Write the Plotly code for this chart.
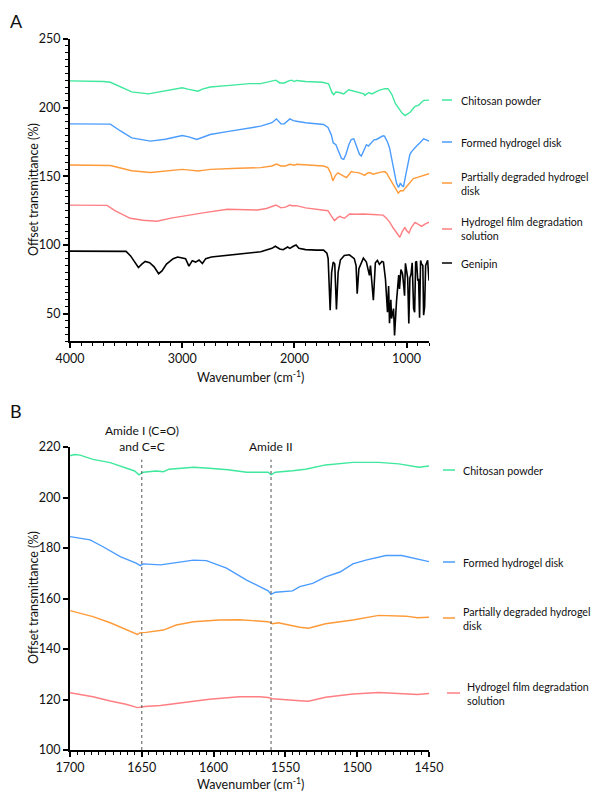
import plotly.graph_objects as go

# ---------------- Panel A (full spectra) ----------------
a_chitosan_wn = [4000, 3800, 3700, 3640, 3550, 3450, 3300, 3150, 3000, 2950, 2880, 2860, 2820, 2750, 2600, 2400, 2300, 2200, 2165, 2130, 2090, 2050, 2025, 2000, 1982, 1900, 1750, 1695, 1665, 1650, 1630, 1600, 1560, 1516, 1490, 1462, 1417, 1380, 1372, 1336, 1309, 1247, 1193, 1166, 1150, 1130, 1100, 1085, 1040, 1013, 990, 968, 945, 924, 900, 888, 860, 843, 800]
a_chitosan_t = [219.5, 219.5, 219.0, 218.5, 215.0, 211.5, 210.0, 212.0, 214.5, 213.5, 212.0, 212.0, 213.5, 215.0, 216.0, 217.5, 217.5, 219.0, 220.0, 218.0, 218.0, 219.5, 220.0, 219.0, 219.8, 219.0, 218.5, 217.4, 211.0, 209.4, 211.4, 211.0, 210.0, 213.0, 212.5, 211.4, 210.6, 210.0, 208.9, 211.0, 210.0, 212.6, 213.8, 213.8, 212.0, 209.4, 203.0, 201.0, 196.0, 194.2, 195.5, 196.6, 199.0, 201.0, 201.5, 202.2, 204.5, 205.3, 205.5]

a_formed_wn = [4000, 3700, 3640, 3550, 3450, 3283, 3150, 3000, 2940, 2870, 2820, 2750, 2600, 2400, 2300, 2200, 2160, 2120, 2090, 2040, 2010, 1982, 1900, 1740, 1700, 1670, 1654, 1630, 1600, 1580, 1560, 1540, 1515, 1493, 1470, 1450, 1420, 1403, 1380, 1358, 1340, 1320, 1290, 1269, 1240, 1210, 1197, 1170, 1152, 1130, 1107, 1090, 1072, 1055, 1040, 1027, 1005, 982, 970, 955, 935, 911, 880, 860, 848, 825, 800]
a_formed_t = [188.2, 188.2, 188.0, 183.0, 178.0, 175.6, 177.0, 179.7, 178.7, 176.8, 178.5, 180.4, 182.5, 185.0, 186.5, 189.0, 191.8, 188.2, 188.2, 191.8, 190.5, 190.1, 189.0, 187.7, 185.5, 180.0, 174.4, 173.0, 167.5, 163.0, 162.3, 166.0, 173.0, 176.8, 177.3, 173.0, 166.0, 164.7, 169.0, 173.0, 172.0, 174.0, 176.5, 176.8, 178.0, 179.5, 179.2, 175.0, 170.8, 162.0, 150.3, 145.0, 141.8, 145.0, 143.0, 142.6, 152.0, 159.9, 166.0, 168.0, 170.0, 172.0, 174.5, 176.5, 177.3, 176.5, 175.6]

a_partial_wn = [4000, 3700, 3640, 3550, 3450, 3283, 3150, 3000, 2930, 2860, 2800, 2750, 2500, 2300, 2200, 2160, 2120, 2080, 2040, 2000, 1982, 1850, 1740, 1701, 1675, 1657, 1635, 1612, 1590, 1560, 1537, 1510, 1493, 1470, 1433, 1400, 1373, 1350, 1328, 1298, 1260, 1230, 1194, 1175, 1164, 1140, 1119, 1095, 1074, 1055, 1030, 1010, 985, 960, 940, 910, 881, 840, 800]
a_partial_t = [158.2, 158.2, 157.8, 156.0, 154.0, 152.7, 154.0, 155.0, 154.5, 153.8, 154.5, 155.0, 155.8, 156.3, 157.5, 158.9, 157.5, 157.5, 158.7, 158.0, 158.7, 158.0, 157.5, 156.3, 152.0, 146.6, 150.5, 152.5, 151.5, 150.0, 149.1, 151.5, 153.4, 153.0, 152.7, 151.8, 150.7, 152.2, 152.7, 151.5, 152.5, 153.0, 153.4, 152.0, 150.3, 147.0, 144.2, 140.0, 137.7, 139.5, 139.4, 141.5, 144.2, 146.5, 148.3, 149.0, 149.8, 151.0, 151.9]

a_solution_wn = [4000, 3700, 3669, 3600, 3500, 3463, 3350, 3224, 3100, 2955, 2800, 2597, 2450, 2328, 2250, 2200, 2164, 2130, 2119, 2080, 2040, 2020, 1982, 1900, 1800, 1740, 1701, 1670, 1642, 1620, 1597, 1575, 1553, 1530, 1508, 1450, 1388, 1300, 1209, 1180, 1149, 1120, 1090, 1060, 1040, 1015, 1000, 979, 955, 925, 895, 866, 840, 806, 800]
a_solution_t = [129.0, 129.0, 128.8, 125.0, 121.0, 119.4, 118.0, 117.2, 119.5, 121.7, 123.5, 126.0, 125.8, 125.4, 126.5, 128.0, 129.0, 127.5, 127.0, 127.5, 129.0, 128.5, 128.6, 127.0, 126.0, 125.5, 124.9, 121.0, 117.7, 119.5, 120.8, 120.0, 119.4, 121.0, 122.5, 122.3, 122.5, 122.2, 121.7, 119.5, 116.4, 112.5, 109.2, 105.6, 109.5, 112.8, 110.5, 108.7, 113.0, 116.4, 115.0, 113.5, 115.0, 116.4, 116.5]

a_genipin_wn = [4000, 3700, 3500, 3460, 3430, 3390, 3360, 3330, 3290, 3250, 3210, 3180, 3140, 3080, 3040, 3000, 2970, 2940, 2910, 2880, 2850, 2820, 2790, 2740, 2600, 2400, 2300, 2200, 2170, 2130, 2100, 2060, 2040, 2010, 1985, 1960, 1900, 1800, 1740, 1710, 1699, 1681, 1668, 1654, 1640, 1625, 1610, 1590, 1555, 1510, 1466, 1450, 1440, 1425, 1400, 1385, 1358, 1340, 1331, 1322, 1296, 1278, 1260, 1242, 1220, 1206, 1195, 1188, 1170, 1160, 1152, 1140, 1134, 1116, 1107, 1098, 1090, 1070, 1063, 1050, 1036, 1025, 1018, 1010, 1000, 990, 980, 970, 960, 950, 937, 928, 919, 911, 900, 893, 884, 875, 866, 855, 848, 839, 830, 820, 812, 800]
a_genipin_t = [95.5, 95.5, 95.3, 92.0, 88.0, 83.5, 86.0, 88.0, 87.0, 84.0, 79.0, 81.0, 86.0, 90.0, 91.2, 90.5, 90.0, 84.5, 88.5, 87.5, 89.0, 86.5, 90.0, 91.2, 92.5, 94.0, 95.0, 97.5, 99.0, 97.0, 96.5, 98.5, 97.5, 99.0, 100.0, 97.5, 96.6, 96.2, 96.2, 94.0, 90.0, 52.4, 80.0, 87.5, 86.0, 53.0, 80.0, 89.0, 92.3, 92.8, 90.0, 85.0, 64.5, 82.6, 88.0, 90.4, 87.5, 80.0, 77.8, 85.0, 59.7, 87.0, 88.7, 85.8, 88.0, 87.5, 80.0, 75.0, 51.0, 70.0, 43.0, 60.0, 46.4, 53.6, 34.0, 51.0, 58.5, 78.0, 68.0, 82.0, 79.0, 70.0, 63.0, 86.6, 80.2, 76.0, 42.8, 76.0, 78.8, 87.0, 53.6, 51.0, 87.5, 88.0, 74.0, 75.3, 47.0, 88.7, 86.0, 85.0, 48.8, 55.0, 85.1, 87.5, 88.7, 74.0]

# ---------------- Panel B (1700-1450 cm-1) ----------------
b_chitosan_wn = [1700, 1697, 1693, 1684, 1672, 1661, 1655, 1652, 1649, 1640, 1635, 1631, 1614, 1603, 1590, 1577, 1568, 1562, 1560, 1557, 1545, 1536, 1522, 1503, 1485, 1471, 1457, 1453, 1450]
b_chitosan_t = [216.5, 217.0, 216.8, 215.1, 213.8, 211.6, 210.5, 209.0, 210.0, 210.5, 210.2, 211.2, 212.0, 211.6, 211.0, 210.0, 210.0, 210.0, 209.0, 210.0, 210.6, 211.2, 212.9, 213.9, 213.9, 213.3, 212.0, 212.3, 212.5]

b_formed_wn = [1700, 1686, 1677, 1665, 1654, 1651, 1649, 1637, 1626, 1614, 1605, 1591, 1577, 1568, 1562, 1560, 1557, 1545, 1540, 1531, 1522, 1512, 1508, 1503, 1494, 1480, 1469, 1460, 1450]
b_formed_t = [184.5, 183.2, 180.5, 176.6, 174.0, 173.0, 173.7, 173.3, 174.2, 175.2, 175.0, 172.0, 167.3, 164.7, 163.0, 161.6, 162.5, 163.0, 164.7, 166.0, 168.6, 170.5, 172.0, 173.7, 175.2, 177.0, 177.0, 175.8, 174.6]

b_partial_wn = [1700, 1684, 1672, 1661, 1653, 1651, 1647, 1635, 1626, 1614, 1596, 1582, 1568, 1562, 1559, 1555, 1540, 1534, 1522, 1503, 1485, 1466, 1458, 1450]
b_partial_t = [155.2, 152.8, 150.4, 147.8, 145.8, 146.5, 146.6, 147.5, 149.5, 150.8, 151.5, 151.6, 151.0, 150.8, 150.0, 150.4, 148.6, 148.2, 150.0, 151.5, 153.3, 153.0, 152.4, 152.6]

b_solution_wn = [1700, 1684, 1672, 1661, 1653, 1648, 1637, 1626, 1603, 1582, 1568, 1562, 1559, 1540, 1534, 1522, 1503, 1485, 1466, 1458, 1450]
b_solution_t = [122.7, 121.1, 119.4, 118.1, 116.8, 117.2, 117.6, 118.5, 120.1, 121.1, 121.1, 120.8, 120.3, 119.5, 119.3, 120.9, 122.2, 122.8, 122.4, 122.0, 122.4]

labels = ["Chitosan powder", "Formed hydrogel disk", "Partially degraded hydrogel<br>disk",
          "Hydrogel film degradation<br>solution", "Genipin"]
colors = ["#3ee89c", "#4a9cff", "#ff9a38", "#ff7e82", "#000000"]

band_wn = [1650, 1560]
band_labels = ["Amide I (C=O)<br>and C=C", "Amide II"]

# The page body has an 8px default margin: size the figure so that it ends exactly at the window edge,
# and express positions in window pixels.
OFF = 8
W, H = 600 - OFF, 794 - OFF
def px(x): return (x - OFF) / W
def py(y): return 1 - (y - OFF) / H

fig = go.Figure()
a_series = [(a_chitosan_wn, a_chitosan_t), (a_formed_wn, a_formed_t), (a_partial_wn, a_partial_t),
            (a_solution_wn, a_solution_t), (a_genipin_wn, a_genipin_t)]
for i, (wn, t) in enumerate(a_series):
    fig.add_trace(go.Scatter(x=wn, y=t, mode="lines", xaxis="x", yaxis="y",
                             line=dict(color=colors[i], width=1.4 if i < 4 else 1.6), name=labels[i]))
b_series = [(b_chitosan_wn, b_chitosan_t), (b_formed_wn, b_formed_t), (b_partial_wn, b_partial_t),
            (b_solution_wn, b_solution_t)]
for i, (wn, t) in enumerate(b_series):
    fig.add_trace(go.Scatter(x=wn, y=t, mode="lines", xaxis="x2", yaxis="y2",
                             line=dict(color=colors[i], width=1.4), name=labels[i]))

FONT = "Lato"
tickfont = dict(family=FONT, size=12.5, color="#111")
axis_common = dict(showline=True, linewidth=2, linecolor="black", ticks="outside", ticklen=5,
                   tickwidth=1.5, tickcolor="black", showgrid=False, zeroline=False, tickfont=tickfont,
                   tickmode="linear", tick0=0, automargin=False)

xdom = [px(70), px(429)]
fig.update_layout(
    template="none",
    width=W, height=H, margin=dict(l=0, r=0, t=0, b=0, pad=0), showlegend=False,
    plot_bgcolor="white", paper_bgcolor="white", font=dict(family=FONT, color="#111"),
    xaxis=dict(domain=xdom, anchor="y", range=[4000, 800], dtick=1000,
               minor=dict(ticks="outside", ticklen=3, tickcolor="black", tickwidth=1, dtick=100, tick0=0),
               **axis_common),
    yaxis=dict(domain=[py(341), py(39)], anchor="x", range=[30, 250], dtick=50,
               minor=dict(ticks="outside", ticklen=3, tickcolor="black", tickwidth=1, dtick=5, tick0=0),
               **axis_common),
    xaxis2=dict(domain=xdom, anchor="y2", range=[1700, 1450], dtick=50,
                minor=dict(ticks="outside", ticklen=3, tickcolor="black", tickwidth=1, dtick=5, tick0=0),
                **axis_common),
    yaxis2=dict(domain=[py(750), py(447)], anchor="x2", range=[100, 220], dtick=20, **axis_common),
)

ann = []
shapes = []
# Panel letters
ann.append(dict(text="A", x=px(8), y=py(8), xref="paper", yref="paper", xanchor="left", yanchor="top",
                showarrow=False, font=dict(family=FONT, size=18, color="#111")))
ann.append(dict(text="B", x=px(8), y=py(411), xref="paper", yref="paper", xanchor="left", yanchor="middle",
                showarrow=False, font=dict(family=FONT, size=18, color="#111")))
# Axis titles
for yc in [190, 598]:
    ann.append(dict(text="Offset transmittance (%)", x=px(33), y=py(yc), xref="paper", yref="paper",
                    textangle=-90, showarrow=False, xanchor="center", yanchor="middle",
                    font=dict(family=FONT, size=12.5, color="#111")))
ann.append(dict(text="Wavenumber (cm<sup>-1</sup>)", x=px(250), y=py(377), xref="paper", yref="paper",
                showarrow=False, xanchor="center", yanchor="middle",
                font=dict(family=FONT, size=12.5, color="#111")))
ann.append(dict(text="Wavenumber (cm<sup>-1</sup>)", x=px(250), y=py(794), xref="paper", yref="paper",
                showarrow=False, xanchor="center", yanchor="bottom",
                font=dict(family=FONT, size=12.5, color="#111")))

LEG = 10.7
# Legends (line swatch + label)
leg_a = [(100, 442, 452, 459), (142, 442, 452, 459), (183, 442, 452, 459), (229, 442, 452, 459), (263, 442, 452, 459)]
for i, (yy, x0, x1, xt) in enumerate(leg_a):
    shapes.append(dict(type="line", xref="paper", yref="paper", x0=px(x0), x1=px(x1), y0=py(yy), y1=py(yy),
                       line=dict(color=colors[i], width=1.5)))
    ann.append(dict(text=labels[i], x=px(xt), y=py(yy), xref="paper", yref="paper", showarrow=False,
                    xanchor="left", yanchor="middle", align="left",
                    font=dict(family=FONT, size=LEG, color="#111")))
leg_b = [(470, 443, 455, 461), (562, 443, 455, 461), (618, 443, 455, 461), (693, 447, 460, 465)]
for i, (yy, x0, x1, xt) in enumerate(leg_b):
    shapes.append(dict(type="line", xref="paper", yref="paper", x0=px(x0), x1=px(x1), y0=py(yy), y1=py(yy),
                       line=dict(color=colors[i], width=1.5)))
    ann.append(dict(text=labels[i], x=px(xt), y=py(yy), xref="paper", yref="paper", showarrow=False,
                    xanchor="left", yanchor="middle", align="left",
                    font=dict(family=FONT, size=LEG, color="#111")))

# Band markers in panel B
for wn, lab in zip(band_wn, band_labels):
    shapes.append(dict(type="line", xref="x2", yref="y2", x0=wn, x1=wn, y0=100, y1=215,
                       line=dict(color="#555", width=1, dash="dot")))
    ann.append(dict(text=lab, x=wn, xref="x2", y=py(456), yref="paper", showarrow=False,
                    xanchor="center", yanchor="bottom", align="center",
                    font=dict(family=FONT, size=12, color="#111")))

fig.update_layout(annotations=ann, shapes=shapes)
fig.write_html("out.html")
